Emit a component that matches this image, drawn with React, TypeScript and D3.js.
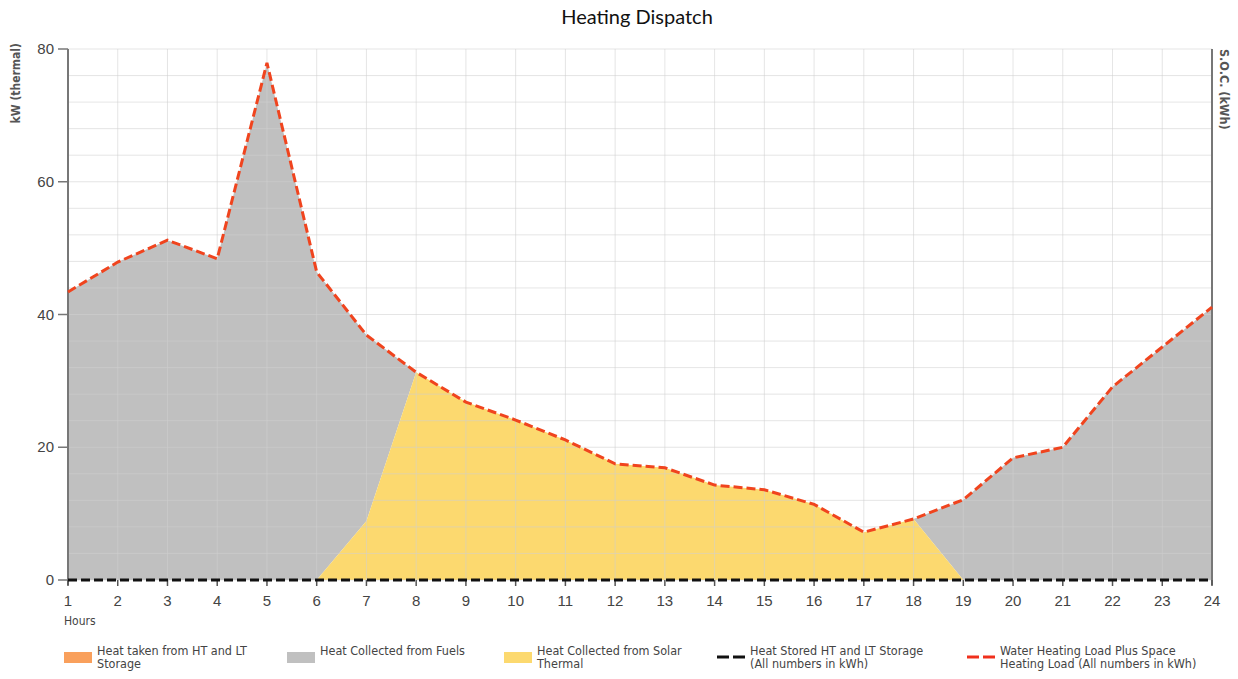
import React from "react";
import * as d3 from "d3";

const hours = [1,2,3,4,5,6,7,8,9,10,11,12,13,14,15,16,17,18,19,20,21,22,23,24];
const loadValues = [43.4,47.9,51.2,48.4,77.9,46.4,36.9,31.3,26.8,24.1,21.1,17.5,16.9,14.3,13.6,11.4,7.2,9.2,12.1,18.4,20.0,29.1,35.1,41.1];
const solarValues = [0,0,0,0,0,0,8.9,31.3,26.8,24.1,21.1,17.5,16.9,14.3,13.6,11.4,7.2,9.2,0,0,0,0,0,0];
const storageTaken = [0,0,0,0,0,0,0,0,0,0,0,0,0,0,0,0,0,0,0,0,0,0,0,0];
const storedValues = [0,0,0,0,0,0,0,0,0,0,0,0,0,0,0,0,0,0,0,0,0,0,0,0];
const yTicks = [0,20,40,60,80];

const W = 1238, H = 679;
const left = 68, right = 1212, top = 49, bottom = 580;

export default function App() {
  const x = d3.scaleLinear().domain([1, 24]).range([left, right]);
  const y = d3.scaleLinear().domain([0, 80]).range([bottom, top]);
  const rows = hours.map((h, i) => ({
    h,
    solar: solarValues[i],
    store: storageTaken[i],
    fuel: Math.max(0, loadValues[i] - solarValues[i] - storageTaken[i]),
    load: loadValues[i],
    stored: storedValues[i],
  }));
  const solarArea = d3.area<any>().x(d => x(d.h)).y0(() => y(0)).y1(d => y(d.solar));
  const fuelArea = d3.area<any>().x(d => x(d.h)).y0(d => y(d.solar + d.store)).y1(d => y(d.solar + d.store + d.fuel));
  const loadLine = d3.line<any>().x(d => x(d.h)).y(d => y(d.load));
  const storedLine = d3.line<any>().x(d => x(d.h)).y(d => y(d.stored));
  const minorY = d3.range(0, 81, 4);
  const font = "'Liberation Sans', Arial, sans-serif";
  const legendFont = "'DejaVu Sans Condensed', 'Liberation Sans Narrow', 'Liberation Sans', sans-serif";

  const legend = [
    { x: 64, kind: "rect", color: "#F9A05C", lines: ["Heat taken from HT and LT", "Storage"] },
    { x: 287, kind: "rect", color: "#C0C0C0", lines: ["Heat Collected from Fuels"] },
    { x: 504, kind: "rect", color: "#FCD96F", lines: ["Heat Collected from Solar", "Thermal"] },
    { x: 717, kind: "dash", color: "#111111", lines: ["Heat Stored HT and LT Storage", "(All numbers in kWh)"] },
    { x: 967, kind: "dash", color: "#F0301C", lines: ["Water Heating Load Plus Space", "Heating Load (All numbers in kWh)"] },
  ];

  return (
    <svg width={W} height={H} style={{ position: "absolute", left: 0, top: 0, background: "#fff" }}>
      <text x={637} y={24} textAnchor="middle" fontFamily="Lato, 'Noto Sans', sans-serif" fontSize={20} fontWeight={400} fill="#111">Heating Dispatch</text>

      {/* areas */}
      <path d={fuelArea(rows) || ""} fill="#C0C0C0" />
      <path d={solarArea(rows) || ""} fill="#FCD96F" />

      {/* grid */}
      {minorY.map(v => (
        <line key={"gy" + v} x1={left} x2={right} y1={y(v)} y2={y(v)} stroke="#cfcfcf" strokeOpacity={0.55} strokeWidth={1} />
      ))}
      {hours.map(h => (
        <line key={"gx" + h} x1={x(h)} x2={x(h)} y1={top} y2={bottom} stroke="#cfcfcf" strokeOpacity={0.55} strokeWidth={1} />
      ))}

      {/* axes */}
      <line x1={left} x2={left} y1={top} y2={bottom + 5} stroke="#777" strokeWidth={2} />
      <line x1={right} x2={right} y1={top} y2={bottom + 5} stroke="#777" strokeWidth={2} />
      {yTicks.map(v => (
        <g key={"yt" + v}>
          <line x1={left - 10} x2={left} y1={y(v)} y2={y(v)} stroke="#777" strokeWidth={1.5} />
          <text x={left - 14} y={y(v) + 5} textAnchor="end" fontFamily={font} fontSize={15} fill="#444">{v}</text>
        </g>
      ))}
      {hours.map(h => (
        <g key={"xt" + h}>
          <line x1={x(h)} x2={x(h)} y1={bottom} y2={bottom + 6} stroke="#555" strokeWidth={1.5} />
          <text x={x(h)} y={bottom + 26} textAnchor="middle" fontFamily={font} fontSize={15} fill="#444">{h}</text>
        </g>
      ))}
      <text x={64} y={625} fontFamily={legendFont} fontSize={12} fill="#444">Hours</text>
      <text transform={`translate(20,${top - 6}) rotate(-90)`} textAnchor="end" fontFamily={legendFont} fontSize={12} fontWeight={700} fill="#555">kW (thermal)</text>
      <text transform={`translate(1220,${top}) rotate(90)`} textAnchor="start" fontFamily={legendFont} fontSize={12.5} fontWeight={700} fill="#555">S.O.C. (kWh)</text>

      {/* lines */}
      <path d={storedLine(rows) || ""} fill="none" stroke="#111" strokeWidth={3} strokeDasharray="9 4" />
      <path d={loadLine(rows) || ""} fill="none" stroke="#F0441E" strokeWidth={3} strokeDasharray="9 4" />

      {/* legend */}
      {legend.map((l, i) => (
        <g key={"lg" + i}>
          {l.kind === "rect" ? (
            <rect x={l.x} y={652} width={28} height={11} fill={l.color} />
          ) : (
            <g>
              <line x1={l.x} x2={l.x + 12} y1={657} y2={657} stroke={l.color} strokeWidth={3} />
              <line x1={l.x + 16} x2={l.x + 28} y1={657} y2={657} stroke={l.color} strokeWidth={3} />
            </g>
          )}
          {l.lines.map((t, j) => (
            <text key={j} x={l.x + 33} y={655 + j * 13} fontFamily={legendFont} fontSize={12.5} fill="#444">{t}</text>
          ))}
        </g>
      ))}
    </svg>
  );
}
